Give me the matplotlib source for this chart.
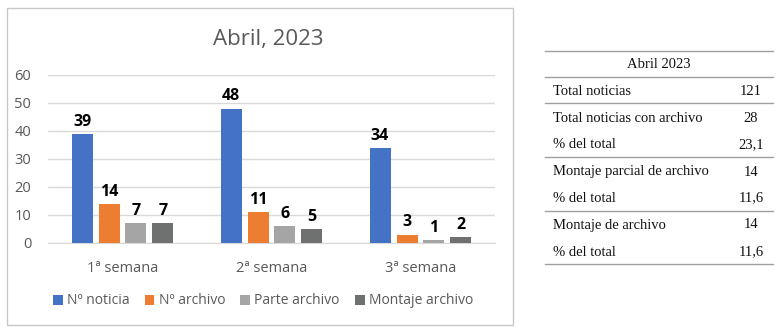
import matplotlib
matplotlib.use("Agg")
import matplotlib.pyplot as plt
import numpy as np
from matplotlib.patches import Rectangle
from matplotlib.lines import Line2D

plt.rcParams["font.family"] = ["Open Sans", "DejaVu Sans"]

# ---------- data ----------
weeks = ["1ª semana", "2ª semana", "3ª semana"]
series_names = ["Nº noticia", "Nº archivo", "Parte archivo", "Montaje archivo"]
noticia = [39, 48, 34]
archivo = [14, 11, 3]
parte = [7, 6, 1]
montaje = [7, 5, 2]
series_colors = ["#4472C4", "#ED7D31", "#A5A5A5", "#6F7171"]

table_title = "Abril 2023"
table_labels = ["Total noticias", "Total noticias con archivo", "% del total",
                "Montaje parcial de archivo", "% del total",
                "Montaje de archivo", "% del total"]
table_values = ["121", "28", "23,1", "14", "11,6", "14", "11,6"]

W, H = 783, 332
fig = plt.figure(figsize=(W / 100, H / 100), dpi=100)


def fx(px):
    return px / W


def fy(py):
    return 1 - py / H


# chart frame
fig.patches.append(Rectangle((fx(7), fy(325)), fx(506), (325 - 8) / H,
                             transform=fig.transFigure, fill=False,
                             edgecolor="#C8C8C8", lw=1.0))

ax = fig.add_axes([fx(48), fy(243), fx(447), 168 / H])
x = np.arange(len(weeks))
step, bw = 0.181, 0.141
all_series = [noticia, archivo, parte, montaje]
for i, (vals, name, col) in enumerate(zip(all_series, series_names, series_colors)):
    pos = x + (i - 1.5) * step
    bars = ax.bar(pos, vals, bw, color=col, label=name, zorder=3)
    for b, v in zip(bars, vals):
        ax.annotate(str(v), (b.get_x() + b.get_width() / 2, v),
                    xytext=(0, 3), textcoords="offset points",
                    ha="center", va="bottom", fontsize=11.5, fontweight="bold",
                    color="black")

ax.set_xlim(-0.5, 2.5)
ax.set_ylim(0, 60)
ax.set_yticks(range(0, 61, 10))
ax.set_xticks(x, weeks)
ax.grid(axis="y", color="#D9D9D9", lw=1.0, zorder=0)
for s in ["top", "right", "left"]:
    ax.spines[s].set_visible(False)
ax.spines["bottom"].set_color("#D9D9D9")
ax.tick_params(axis="both", length=0, colors="#595959", labelsize=10.5)
ax.tick_params(axis="y", pad=12)
ax.tick_params(axis="x", pad=13)

fig.text(fx(268), fy(39), "Abril, 2023", ha="center", va="center",
         fontsize=16, color="#595959")

fig.legend(loc="center", bbox_to_anchor=(fx(263), fy(301)), ncol=4,
           frameon=False, fontsize=10, handlelength=0.7, handleheight=0.7,
           handletextpad=0.3, columnspacing=1.1, labelcolor="#595959")

# ---------- table ----------
serif = ["Liberation Serif", "DejaVu Serif"]
line_ys = [51, 77, 103, 157, 211, 264]
for ly in line_ys:
    fig.add_artist(Line2D([fx(545), fx(773)], [fy(ly), fy(ly)],
                          transform=fig.transFigure, color="#A0A0A0", lw=1.0))
fig.text(fx(659), fy(64), table_title, ha="center", va="center",
         fontsize=10.5, family=serif, color="#111111")
row_ys = [91, 118, 145, 172, 198, 225, 252]
for ry, lab, val in zip(row_ys, table_labels, table_values):
    fig.text(fx(553), fy(ry), lab, ha="left", va="center",
             fontsize=10.5, family=serif, color="#111111")
    fig.text(fx(751), fy(ry), val, ha="center", va="center",
             fontsize=10.5, family=serif, color="#111111")

fig.savefig("out.png", dpi=100)
